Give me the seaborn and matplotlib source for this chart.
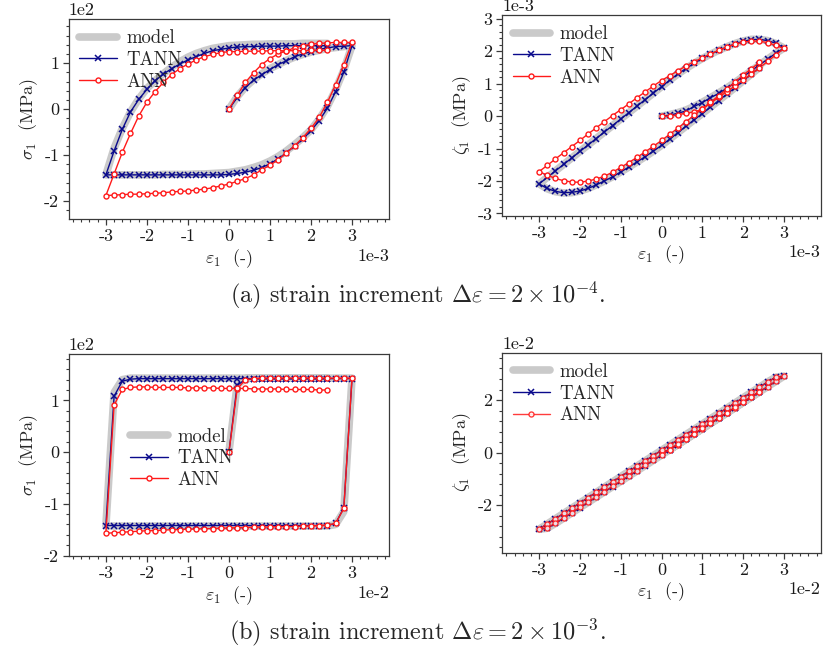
import numpy as np
import pandas as pd
import matplotlib
matplotlib.use("Agg")
import matplotlib.pyplot as plt
import seaborn as sns
from matplotlib.ticker import MultipleLocator, AutoMinorLocator, ScalarFormatter

# ---------------- strain path (in units of the panel's scale) ----------------
EPS_LOAD = [0.0, 0.2, 0.4, 0.6, 0.8, 1.0, 1.2, 1.4, 1.6, 1.8, 2.0, 2.2, 2.4, 2.6, 2.8, 3.0]
EPS_UNLOAD = [2.8, 2.6, 2.4, 2.2, 2.0, 1.8, 1.6, 1.4, 1.2, 1.0, 0.8, 0.6, 0.4, 0.2, 0.0,
              -0.2, -0.4, -0.6, -0.8, -1.0, -1.2, -1.4, -1.6, -1.8, -2.0, -2.2, -2.4, -2.6, -2.8, -3.0]
EPS_RELOAD = [-2.8, -2.6, -2.4, -2.2, -2.0, -1.8, -1.6, -1.4, -1.2, -1.0, -0.8, -0.6, -0.4, -0.2,
              0.0, 0.2, 0.4, 0.6, 0.8, 1.0, 1.2, 1.4, 1.6, 1.8, 2.0, 2.2, 2.4]

# ---------------- (a) strain increment 2e-4 : stress (x1e2 MPa) ----------------
MODEL_A_SIG = ([0, 0.27, 0.48, 0.64, 0.77, 0.88, 0.97, 1.06, 1.13, 1.19, 1.24, 1.28, 1.32, 1.34, 1.36, 1.38]
               + [0.85, 0.42, 0.06, -0.22, -0.45, -0.62, -0.77, -0.91, -1.03, -1.13, -1.21, -1.27, -1.32, -1.35, -1.38,
                  -1.39, -1.40, -1.41, -1.41, -1.42, -1.42, -1.42, -1.42, -1.43, -1.43, -1.43, -1.43, -1.43, -1.43, -1.43]
               + [-0.85, -0.42, -0.06, 0.22, 0.45, 0.62, 0.77, 0.91, 1.03, 1.13, 1.21, 1.27, 1.32, 1.35,
                  1.38, 1.39, 1.40, 1.41, 1.41, 1.42, 1.42, 1.42, 1.42, 1.43, 1.43, 1.43, 1.43])
TANN_A_SIG = ([0, 0.25, 0.47, 0.63, 0.75, 0.86, 0.97, 1.05, 1.14, 1.20, 1.25, 1.30, 1.33, 1.36, 1.37, 1.38]
              + [0.80, 0.38, 0.02, -0.25, -0.47, -0.65, -0.80, -0.95, -1.08, -1.19, -1.27, -1.33, -1.37, -1.40, -1.42,
                 -1.43, -1.43, -1.43, -1.43, -1.43, -1.43, -1.43, -1.43, -1.43, -1.43, -1.43, -1.43, -1.43, -1.43, -1.43]
              + [-0.91, -0.44, -0.06, 0.21, 0.43, 0.62, 0.76, 0.88, 0.98, 1.07, 1.14, 1.21, 1.27, 1.30,
                 1.33, 1.35, 1.36, 1.36, 1.37, 1.37, 1.37, 1.38, 1.38, 1.38, 1.38, 1.38, 1.38])
ANN_A_SIG = ([0, 0.30, 0.58, 0.79, 0.97, 1.10, 1.20, 1.27, 1.33, 1.38, 1.41, 1.43, 1.44, 1.45, 1.45, 1.45]
             + [0.97, 0.53, 0.15, -0.18, -0.42, -0.62, -0.80, -0.95, -1.10, -1.22, -1.32, -1.43, -1.51, -1.57, -1.63,
                -1.67, -1.71, -1.74, -1.76, -1.78, -1.79, -1.80, -1.82, -1.83, -1.84, -1.85, -1.85, -1.86, -1.87, -1.88]
             + [-1.41, -0.94, -0.53, -0.15, 0.15, 0.38, 0.58, 0.75, 0.88, 0.98, 1.07, 1.14, 1.19, 1.23,
                1.25, 1.25, 1.26, 1.26, 1.26, 1.27, 1.27, 1.27, 1.27, 1.27, 1.28, 1.28, 1.28])

# ---------------- (a) internal variable zeta (x1e-3 MPa) ----------------
MODEL_A_Z = ([0, 0.05, 0.11, 0.19, 0.30, 0.43, 0.57, 0.72, 0.87, 1.04, 1.22, 1.40, 1.58, 1.76, 1.94, 2.10]
             + [2.24, 2.33, 2.37, 2.37, 2.32, 2.24, 2.14, 2.03, 1.91, 1.78, 1.63, 1.47, 1.30, 1.11, 0.91,
                0.71, 0.51, 0.31, 0.11, -0.09, -0.29, -0.49, -0.69, -0.89, -1.09, -1.29, -1.49, -1.69, -1.89, -2.09]
             + [-2.24, -2.33, -2.37, -2.36, -2.31, -2.23, -2.12, -2.00, -1.87, -1.72, -1.57, -1.41, -1.25, -1.08,
                -0.90, -0.71, -0.51, -0.31, -0.11, 0.08, 0.28, 0.48, 0.68, 0.88, 1.09, 1.30, 1.50])
TANN_A_Z = ([0, 0.03, 0.09, 0.16, 0.30, 0.42, 0.57, 0.70, 0.86, 1.04, 1.22, 1.40, 1.58, 1.76, 1.94, 2.10]
            + [2.25, 2.33, 2.37, 2.36, 2.31, 2.23, 2.13, 2.03, 1.91, 1.78, 1.63, 1.47, 1.30, 1.11, 0.91,
               0.71, 0.51, 0.31, 0.11, -0.09, -0.29, -0.49, -0.69, -0.89, -1.09, -1.29, -1.49, -1.69, -1.89, -2.09]
            + [-2.23, -2.32, -2.36, -2.35, -2.31, -2.23, -2.12, -2.00, -1.87, -1.72, -1.57, -1.41, -1.25, -1.08,
               -0.90, -0.71, -0.51, -0.31, -0.11, 0.08, 0.28, 0.48, 0.68, 0.88, 1.09, 1.30, 1.50])
ANN_A_Z = ([0, 0.00, 0.05, 0.09, 0.13, 0.22, 0.40, 0.58, 0.76, 0.93, 1.11, 1.30, 1.49, 1.69, 1.89, 2.09]
           + [2.18, 2.27, 2.31, 2.32, 2.28, 2.22, 2.13, 2.03, 1.92, 1.80, 1.68, 1.55, 1.40, 1.25, 1.10,
              0.93, 0.75, 0.57, 0.38, 0.20, 0.02, -0.17, -0.36, -0.55, -0.75, -0.94, -1.13, -1.32, -1.52, -1.71]
           + [-1.82, -1.92, -1.99, -2.03, -2.04, -2.00, -1.94, -1.85, -1.73, -1.58, -1.43, -1.27, -1.10, -0.93,
              -0.75, -0.56, -0.37, -0.17, 0.03, 0.23, 0.43, 0.63, 0.84, 1.05, 1.27, 1.46, 1.66])

# ---------------- (b) strain increment 2e-3 : stress (x1e2 MPa) ----------------
MODEL_B_SIG = ([0, 1.30, 1.42, 1.43, 1.43, 1.43, 1.43, 1.43, 1.43, 1.43, 1.43, 1.43, 1.43, 1.43, 1.43, 1.43]
               + [-1.15, -1.40, -1.43, -1.43, -1.43, -1.43, -1.43, -1.43, -1.43, -1.43, -1.43, -1.43, -1.43, -1.43, -1.43,
                  -1.43, -1.43, -1.43, -1.43, -1.43, -1.43, -1.43, -1.43, -1.43, -1.43, -1.43, -1.43, -1.43, -1.43, -1.43]
               + [1.15, 1.40, 1.43, 1.43, 1.43, 1.43, 1.43, 1.43, 1.43, 1.43, 1.43, 1.43, 1.43, 1.43,
                  1.43, 1.43, 1.43, 1.43, 1.43, 1.43, 1.43, 1.43, 1.43, 1.43, 1.43, 1.43, 1.43])
TANN_B_SIG = ([0, 1.29, 1.40, 1.42, 1.42, 1.42, 1.42, 1.42, 1.42, 1.42, 1.42, 1.42, 1.42, 1.42, 1.42, 1.42]
              + [-1.08, -1.38, -1.42, -1.42, -1.42, -1.42, -1.42, -1.42, -1.42, -1.42, -1.42, -1.42, -1.42, -1.42, -1.42,
                 -1.42, -1.42, -1.42, -1.42, -1.42, -1.42, -1.42, -1.42, -1.42, -1.42, -1.42, -1.42, -1.42, -1.42, -1.42]
              + [1.08, 1.37, 1.41, 1.42, 1.42, 1.42, 1.42, 1.42, 1.42, 1.42, 1.42, 1.42, 1.42, 1.42,
                 1.42, 1.42, 1.42, 1.42, 1.42, 1.42, 1.42, 1.42, 1.42, 1.42, 1.42, 1.42, 1.42])
ANN_B_SIG = ([0, 1.22, 1.40, 1.42, 1.43, 1.43, 1.43, 1.43, 1.43, 1.43, 1.43, 1.43, 1.43, 1.43, 1.43, 1.43]
             + [-1.09, -1.38, -1.41, -1.42, -1.43, -1.43, -1.44, -1.44, -1.44, -1.45, -1.45, -1.45, -1.46, -1.46, -1.47,
                -1.47, -1.48, -1.48, -1.49, -1.49, -1.50, -1.50, -1.51, -1.52, -1.52, -1.53, -1.54, -1.55, -1.56, -1.57]
             + [0.91, 1.21, 1.25, 1.26, 1.26, 1.25, 1.25, 1.25, 1.25, 1.24, 1.24, 1.24, 1.24, 1.23,
                1.23, 1.23, 1.23, 1.22, 1.22, 1.22, 1.22, 1.21, 1.21, 1.21, 1.21, 1.20, 1.20])

# ---------------- (b) internal variable zeta (x1e-2 MPa) ----------------
MODEL_B_Z = ([0, 0.12, 0.31, 0.51, 0.71, 0.91, 1.11, 1.31, 1.51, 1.71, 1.91, 2.11, 2.31, 2.51, 2.71, 2.91]
             + [2.87, 2.69, 2.49, 2.29, 2.09, 1.89, 1.69, 1.49, 1.29, 1.09, 0.89, 0.69, 0.49, 0.29, 0.09,
                -0.11, -0.31, -0.51, -0.71, -0.91, -1.11, -1.31, -1.51, -1.71, -1.91, -2.11, -2.31, -2.51, -2.71, -2.91]
             + [-2.87, -2.69, -2.49, -2.29, -2.09, -1.89, -1.69, -1.49, -1.29, -1.09, -0.89, -0.69, -0.49, -0.29,
                -0.09, 0.11, 0.31, 0.51, 0.71, 0.91, 1.11, 1.31, 1.51, 1.71, 1.91, 2.11, 2.31])
TANN_B_Z = ([0, 0.12, 0.31, 0.51, 0.71, 0.91, 1.11, 1.31, 1.51, 1.71, 1.91, 2.11, 2.31, 2.51, 2.71, 2.91]
            + [2.87, 2.69, 2.49, 2.29, 2.09, 1.89, 1.69, 1.49, 1.29, 1.09, 0.89, 0.69, 0.49, 0.29, 0.09,
               -0.11, -0.31, -0.51, -0.71, -0.91, -1.11, -1.31, -1.51, -1.71, -1.91, -2.11, -2.31, -2.51, -2.71, -2.91]
            + [-2.87, -2.69, -2.49, -2.29, -2.09, -1.89, -1.69, -1.49, -1.29, -1.09, -0.89, -0.69, -0.49, -0.29,
               -0.09, 0.11, 0.31, 0.51, 0.71, 0.91, 1.11, 1.31, 1.51, 1.71, 1.91, 2.11, 2.31])
ANN_B_Z = ([0, 0.12, 0.31, 0.51, 0.71, 0.91, 1.11, 1.31, 1.51, 1.71, 1.91, 2.11, 2.31, 2.51, 2.71, 2.91]
           + [2.87, 2.68, 2.49, 2.29, 2.09, 1.89, 1.69, 1.49, 1.29, 1.09, 0.89, 0.69, 0.49, 0.29, 0.09,
              -0.11, -0.31, -0.51, -0.71, -0.91, -1.11, -1.31, -1.51, -1.71, -1.91, -2.11, -2.31, -2.51, -2.71, -2.90]
           + [-2.86, -2.68, -2.48, -2.28, -2.08, -1.88, -1.68, -1.48, -1.28, -1.08, -0.88, -0.68, -0.48, -0.28,
              -0.08, 0.12, 0.32, 0.52, 0.72, 0.92, 1.12, 1.32, 1.52, 1.72, 1.92, 2.12, 2.32])

LABELS = ["model", "TANN", "ANN"]
CAPTION_A = r"(a) strain increment $\Delta\varepsilon = 2\times10^{-4}$."
CAPTION_B = r"(b) strain increment $\Delta\varepsilon = 2\times10^{-3}$."

# ---------------- style ----------------
sns.set_style("ticks")
plt.rcParams["font.family"] = ["cmr10", "DejaVu Serif"]
plt.rcParams["mathtext.fontset"] = "cm"
plt.rcParams["axes.unicode_minus"] = False
plt.rcParams["axes.formatter.use_mathtext"] = False
plt.rcParams["axes.edgecolor"] = "#3a3a3a"
plt.rcParams["xtick.color"] = "#3a3a3a"
plt.rcParams["ytick.color"] = "#3a3a3a"
plt.rcParams["xtick.labelcolor"] = "#1a1a1a"
plt.rcParams["ytick.labelcolor"] = "#1a1a1a"

TICK_FS = 13
LABEL_FS = 13
LEG_FS = 13.5
CAP_FS = 17.5

EPS = np.array(EPS_LOAD + EPS_UNLOAD + EPS_RELOAD)

fig = plt.figure(figsize=(8.24, 6.53), dpi=100)
ax_tl = fig.add_axes([0.0837, 0.6646, 0.3883, 0.3063])
ax_tr = fig.add_axes([0.6096, 0.6697, 0.3864, 0.3073])
ax_bl = fig.add_axes([0.0837, 0.1485, 0.3883, 0.3089])
ax_br = fig.add_axes([0.6096, 0.1536, 0.3864, 0.3063])


def draw(ax, ys_model, ys_tann, ys_ann, xscale, yscale, ann_alpha=1.0):
    x = EPS * xscale
    sns.lineplot(x=x, y=np.array(ys_model) * yscale, sort=False, estimator=None, ax=ax,
                 color="#cacaca", lw=5.5, label=LABELS[0], zorder=1)
    sns.lineplot(x=x, y=np.array(ys_tann) * yscale, sort=False, estimator=None, ax=ax,
                 color="#0a0a8c", lw=1.0, marker="x", markersize=4.5, markeredgewidth=1.1,
                 markeredgecolor="#0a0a8c", label=LABELS[1], zorder=2)
    sns.lineplot(x=x, y=np.array(ys_ann) * yscale, sort=False, estimator=None, ax=ax,
                 color="#ff1a1a", lw=1.0, marker="o", markersize=3.6, markeredgewidth=1.0,
                 markerfacecolor="white", markeredgecolor="#ff1a1a", alpha=ann_alpha,
                 label=LABELS[2], zorder=3)


def style(ax, xscale, yscale, ystep, xlim, ylim, ylabel):
    ax.set_xlim(xlim[0] * xscale, xlim[1] * xscale)
    ax.set_ylim(ylim[0] * yscale, ylim[1] * yscale)
    ax.xaxis.set_major_locator(MultipleLocator(1 * xscale))
    ax.yaxis.set_major_locator(MultipleLocator(ystep * yscale))
    ax.xaxis.set_minor_locator(AutoMinorLocator(5))
    ax.yaxis.set_minor_locator(AutoMinorLocator(5))
    for axis in (ax.xaxis, ax.yaxis):
        f = ScalarFormatter(useMathText=False)
        f.set_powerlimits((0, 0))
        axis.set_major_formatter(f)
    ax.tick_params(which="major", direction="out", length=4, width=0.9, labelsize=TICK_FS, pad=3)
    ax.tick_params(which="minor", direction="out", length=2.2, width=0.8)
    ax.xaxis.get_offset_text().set_fontsize(TICK_FS)
    ax.yaxis.get_offset_text().set_fontsize(TICK_FS)
    for s in ax.spines.values():
        s.set_linewidth(0.9)
        s.set_visible(True)
    ax.set_xlabel(r"$\varepsilon_1$  (-)", fontsize=LABEL_FS, labelpad=2)
    ax.set_ylabel(ylabel, fontsize=LABEL_FS, labelpad=3)


draw(ax_tl, MODEL_A_SIG, TANN_A_SIG, ANN_A_SIG, 1e-3, 1e2)
draw(ax_tr, MODEL_A_Z, TANN_A_Z, ANN_A_Z, 1e-3, 1e-3)
draw(ax_bl, MODEL_B_SIG, TANN_B_SIG, ANN_B_SIG, 1e-2, 1e2)
draw(ax_br, MODEL_B_Z, TANN_B_Z, ANN_B_Z, 1e-2, 1e-2, ann_alpha=0.85)

style(ax_tl, 1e-3, 1e2, 1, (-3.9, 3.9), (-2.39, 1.96), r"$\sigma_1$  (MPa)")
style(ax_tr, 1e-3, 1e-3, 1, (-3.9, 3.9), (-3.07, 3.12), r"$\zeta_1$  (MPa)")
style(ax_bl, 1e-2, 1e2, 1, (-3.9, 3.9), (-2.01, 1.89), r"$\sigma_1$  (MPa)")
style(ax_br, 1e-2, 1e-2, 2, (-3.9, 3.9), (-3.8, 3.8), r"$\zeta_1$  (MPa)")

leg_kw = dict(frameon=False, fontsize=LEG_FS, handlelength=2.0, labelspacing=0.2,
              borderaxespad=0.25, handletextpad=0.5, borderpad=0.3)
ax_tl.legend(loc="upper left", **leg_kw)
ax_tr.legend(loc="upper left", **leg_kw)
ax_bl.legend(loc="center left", bbox_to_anchor=(0.16, 0.484), **leg_kw)
ax_br.legend(loc="upper left", **leg_kw)

fig.text(0.507, 0.548, CAPTION_A, ha="center", va="center", fontsize=CAP_FS)
fig.text(0.507, 0.032, CAPTION_B, ha="center", va="center", fontsize=CAP_FS)

fig.savefig("out.png", dpi=100)
